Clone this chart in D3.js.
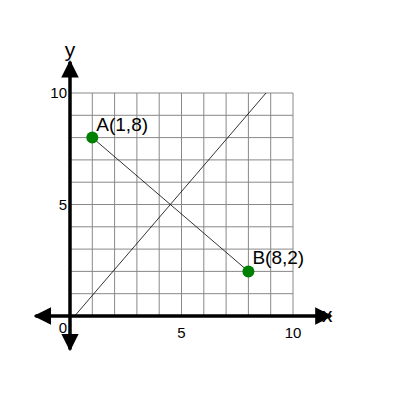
<!DOCTYPE html><html><head><script src="https://d3js.org/d3.v7.min.js"></script>
<style>body{margin:0;background:#fff}</style></head><body><svg width="400" height="400"></svg>
<script>
const points=[{n:"A",x:1,y:8},{n:"B",x:8,y:2}];
const gridVals=d3.range(0,11);
const tickVals=[5,10];
const bisector=[[0.21,0],[8.79,10]];
const svg=d3.select("svg");
const x=d3.scaleLinear().domain([0,10]).range([70,293]);
const y=d3.scaleLinear().domain([0,10]).range([316,93]);
const g=svg.append("g");
gridVals.forEach(v=>{
 g.append("line").attr("x1",x(v)).attr("x2",x(v)).attr("y1",y(0)).attr("y2",y(10)).attr("stroke","#888").attr("stroke-width",1);
 g.append("line").attr("y1",y(v)).attr("y2",y(v)).attr("x1",x(0)).attr("x2",x(10)).attr("stroke","#888").attr("stroke-width",1);
});
const defs=svg.append("defs");
defs.append("marker").attr("id","ar").attr("viewBox","0 0 10 10").attr("refX",9).attr("refY",5).attr("markerWidth",5).attr("markerHeight",5).attr("markerUnits","strokeWidth").attr("orient","auto-start-reverse")
 .append("path").attr("d","M0,0L10,5L0,10Z").attr("fill","#000");
svg.append("line").attr("x1",x(-1.55)).attr("x2",x(11.7)).attr("y1",y(0)).attr("y2",y(0)).attr("stroke","#000").attr("stroke-width",3.5).attr("marker-start","url(#ar)").attr("marker-end","url(#ar)");
svg.append("line").attr("x1",x(0)).attr("x2",x(0)).attr("y1",y(-1.5)).attr("y2",y(11.4)).attr("stroke","#000").attr("stroke-width",3.5).attr("marker-start","url(#ar)").attr("marker-end","url(#ar)");
svg.append("line").attr("x1",x(points[0].x)).attr("y1",y(points[0].y)).attr("x2",x(points[1].x)).attr("y2",y(points[1].y)).attr("stroke","#000").attr("stroke-width",0.8);
svg.append("line").attr("x1",x(bisector[0][0])).attr("y1",y(bisector[0][1])).attr("x2",x(bisector[1][0])).attr("y2",y(bisector[1][1])).attr("stroke","#000").attr("stroke-width",0.8);
const f="Liberation Sans, Arial, sans-serif";
tickVals.forEach(v=>{
 svg.append("text").attr("x",x(v)).attr("y",y(0)+22).attr("text-anchor","middle").attr("font-family",f).attr("font-size",15).text(v);
 svg.append("text").attr("x",x(0)-3).attr("y",y(v)+5).attr("text-anchor","end").attr("font-family",f).attr("font-size",15).text(v);
});
svg.append("text").attr("x",x(0)-3).attr("y",y(0)+17).attr("text-anchor","end").attr("font-family",f).attr("font-size",15).text("0");
svg.append("text").attr("x",322).attr("y",y(0)+6).attr("font-family",f).attr("font-size",21).text("x");
svg.append("text").attr("x",x(0)).attr("y",57).attr("text-anchor","middle").attr("font-family",f).attr("font-size",21).text("y");
points.forEach(p=>{
 svg.append("circle").attr("cx",x(p.x)).attr("cy",y(p.y)).attr("r",6).attr("fill","#008000");
 svg.append("text").attr("x",x(p.x)+4).attr("y",y(p.y)-7).attr("font-family",f).attr("font-size",19).text(`${p.n}(${p.x},${p.y})`);
});
</script></body></html>
